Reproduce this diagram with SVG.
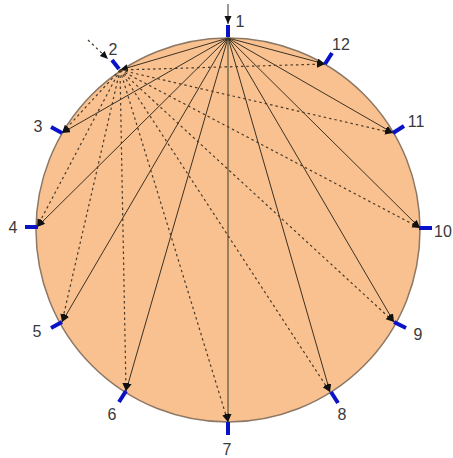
<svg xmlns="http://www.w3.org/2000/svg" width="453" height="458" viewBox="0 0 453 458">
<style>
.lbl{font-family:"Liberation Sans",Arial,sans-serif;font-size:16px;fill:#3a3a3a;text-anchor:middle}
.sol{stroke:#3b3224;stroke-width:1;fill:none;marker-end:url(#ah)}
.dsh{stroke:#4a3b2a;stroke-width:1.2;stroke-dasharray:2.5,3;fill:none;marker-end:url(#ah)}
.tick{stroke:#0a12c8;stroke-width:4;stroke-linecap:butt}
</style>
<defs>
<marker id="ah" markerUnits="userSpaceOnUse" markerWidth="9" markerHeight="8" refX="8" refY="3.5" orient="auto">
<path d="M0,0 L8,3.5 L0,7 z" fill="#111"/>
</marker>
</defs>
<rect width="453" height="458" fill="#fff"/>
<g id="disc">
<circle cx="228" cy="230" r="192" fill="#f9c190" stroke="#8c7864" stroke-width="1.5"/>
</g>
<g id="connectors">
<line class="sol" x1="228" y1="4" x2="228" y2="24"/>
<line class="dsh" x1="88" y1="40" x2="108" y2="59"/>
<line class="sol" x1="228" y1="38" x2="120" y2="70"/>
<line class="sol" x1="228" y1="38" x2="62" y2="133"/>
<line class="sol" x1="228" y1="38" x2="37" y2="227"/>
<line class="sol" x1="228" y1="38" x2="62" y2="322"/>
<line class="sol" x1="228" y1="38" x2="126" y2="391"/>
<line class="sol" x1="228" y1="38" x2="228" y2="422" style="stroke:#6e6446;stroke-width:1.4"/>
<line class="sol" x1="228" y1="38" x2="330" y2="392"/>
<line class="sol" x1="228" y1="38" x2="394" y2="322"/>
<line class="sol" x1="228" y1="38" x2="420" y2="228"/>
<line class="sol" x1="228" y1="38" x2="393" y2="133"/>
<line class="sol" x1="228" y1="38" x2="325" y2="64"/>
<line class="dsh" x1="120" y1="70" x2="62" y2="133"/>
<line class="dsh" x1="120" y1="70" x2="37" y2="227"/>
<line class="dsh" x1="120" y1="70" x2="62" y2="322"/>
<line class="dsh" x1="120" y1="70" x2="126" y2="391"/>
<line class="dsh" x1="120" y1="70" x2="228" y2="422"/>
<line class="dsh" x1="120" y1="70" x2="330" y2="392"/>
<line class="dsh" x1="120" y1="70" x2="394" y2="322"/>
<line class="dsh" x1="120" y1="70" x2="420" y2="228"/>
<line class="dsh" x1="120" y1="70" x2="393" y2="133"/>
<line class="dsh" x1="120" y1="70" x2="325" y2="64"/>
</g>
<g id="n1"><line class="tick" x1="228" y1="37" x2="228" y2="25"/><text class="lbl" x="240" y="27">1</text></g>
<g id="n2"><line class="tick" x1="119" y1="69" x2="112" y2="60"/><text class="lbl" x="113" y="55">2</text></g>
<g id="n3"><line class="tick" x1="62" y1="133" x2="51" y2="127"/><text class="lbl" x="38" y="132">3</text></g>
<g id="n4"><line class="tick" x1="38" y1="227" x2="25" y2="227"/><text class="lbl" x="13" y="233">4</text></g>
<g id="n5"><line class="tick" x1="62" y1="322" x2="51" y2="328"/><text class="lbl" x="37" y="337">5</text></g>
<g id="n6"><line class="tick" x1="126" y1="391" x2="119" y2="402"/><text class="lbl" x="112" y="420">6</text></g>
<g id="n7"><line class="tick" x1="228" y1="422" x2="228" y2="435"/><text class="lbl" x="227" y="455">7</text></g>
<g id="n8"><line class="tick" x1="331" y1="392" x2="338" y2="403"/><text class="lbl" x="342" y="420">8</text></g>
<g id="n9"><line class="tick" x1="394" y1="322" x2="406" y2="328"/><text class="lbl" x="418" y="340">9</text></g>
<g id="n10"><line class="tick" x1="419" y1="228" x2="432" y2="228"/><text class="lbl" x="443" y="237">10</text></g>
<g id="n11"><line class="tick" x1="393" y1="133" x2="404" y2="126"/><text class="lbl" x="416" y="127">11</text></g>
<g id="n12"><line class="tick" x1="325" y1="64" x2="332" y2="53"/><text class="lbl" x="341" y="50">12</text></g>
</svg>
